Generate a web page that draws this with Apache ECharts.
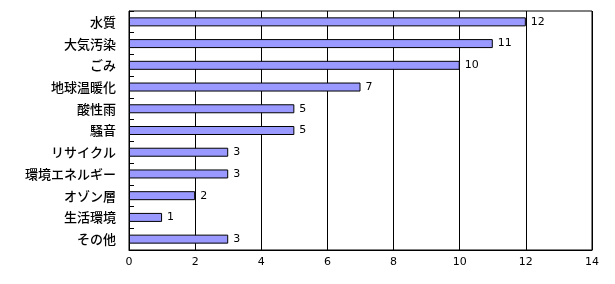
<!DOCTYPE html>
<html><head><meta charset="utf-8">
<script src="https://cdn.jsdelivr.net/npm/echarts@6/dist/echarts.min.js"></script>
<style>html,body{margin:0;padding:0;background:#fff}#c{width:615px;height:284px}</style>
</head><body><div id="c"></div>
<script>
const categories = ["水質","大気汚染","ごみ","地球温暖化","酸性雨","騒音","リサイクル","環境エネルギー","オゾン層","生活環境","その他"];
const counts = [12,11,10,7,5,5,3,3,2,1,3];
const xTicks = [0,2,4,6,8,10,12,14];

const chart = echarts.init(document.getElementById('c'), null, {renderer:'canvas'});
chart.setOption({
  animation:false,
  grid:{left:129,right:23,top:11,bottom:34,show:true,borderColor:'#000',borderWidth:1,backgroundColor:'transparent'},
  xAxis:{type:'value',min:xTicks[0],max:xTicks[xTicks.length-1],interval:2,
    axisLine:{show:true,lineStyle:{color:'#000',width:1}},
    axisTick:{show:false},
    splitLine:{show:true,lineStyle:{color:'#000',width:1}},
    axisLabel:{color:'#000',fontSize:11,fontFamily:'DejaVu Sans',margin:7}},
  yAxis:{type:'category',data:categories,inverse:true,
    axisLine:{show:true,lineStyle:{color:'#000',width:1}},
    axisTick:{show:true,inside:true,length:5,lineStyle:{color:'#000'}},
    axisLabel:{color:'#000',fontSize:13,fontWeight:500,fontFamily:'Noto Sans CJK JP',margin:13}},
  series:[{type:'bar',data:counts,barWidth:9,
    itemStyle:{color:'#9999FF',borderColor:'#000',borderWidth:1},
    label:{show:true,position:'right',distance:5,color:'#000',fontSize:11,fontFamily:'DejaVu Sans'}}]
});
</script></body></html>
